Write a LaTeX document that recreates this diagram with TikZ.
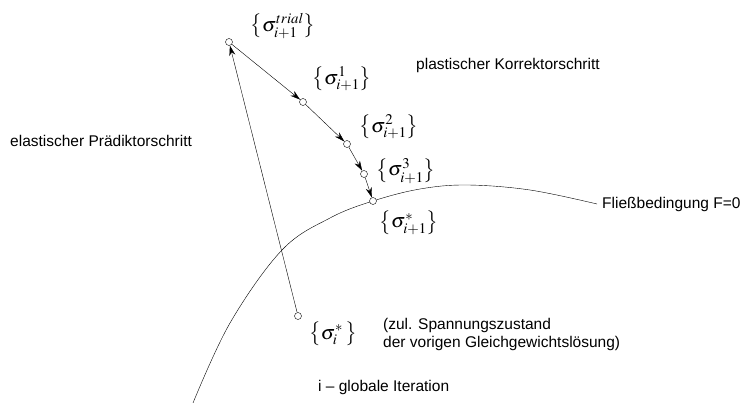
\documentclass[tikz,border=0pt]{standalone}
\usepackage{mathptmx}
\usepackage{fontspec}
\setmainfont{Liberation Sans}
\usetikzlibrary{arrows.meta}

\begin{document}
\begin{tikzpicture}[
  x=1pt, y=-1pt,
  pt/.style={circle, draw, fill=white, minimum size=7pt,
             inner sep=0pt},
  lbl/.style={inner sep=0pt, font=\fontsize{20}{22}\selectfont},
  txt/.style={inner sep=0pt, font=\fontsize{15.5}{18}\selectfont,
              align=left},
  lk/.style={draw, -{Stealth[length=10pt, width=6pt]}}
]
  \useasboundingbox (0,0) rectangle (751,403);
  % Fliessflaeche
  \draw plot[smooth, tension=0.6] coordinates {(193,403) (230,323)
    (282,250) (330,218) (373,201) (420,189) (467,185) (530,190) (597,204)};
  \node[pt] (T)  at (229, 42) {};
  \node[pt] (K1) at (303,102) {};
  \node[pt] (K2) at (347,144) {};
  \node[pt] (K3) at (364,174) {};
  \node[pt] (KS) at (373,201) {};
  \node[pt] (S0) at (298,316) {};
  \node[lbl] (LT)  at (283, 26) {$\bigl\{\sigma^{trial}_{i+1}\bigr\}$};
  \node[lbl] (L1)  at (342, 79) {$\bigl\{\sigma^{1}_{i+1}\bigr\}$};
  \node[lbl] (L2)  at (389,127) {$\bigl\{\sigma^{2}_{i+1}\bigr\}$};
  \node[lbl] (L3)  at (406,171) {$\bigl\{\sigma^{3}_{i+1}\bigr\}$};
  \node[lbl] (LS)  at (409,223) {$\bigl\{\sigma^{*}_{i+1}\bigr\}$};
  \node[lbl] (L0)  at (333,334) {$\bigl\{\sigma^{*}_{i}\,\bigr\}$};
  \node[txt, anchor=west] (FL) at (602,204) {Fließbedingung F=0};
  \node[txt, anchor=west] (PK) at (416, 65) {plastischer Korrektorschritt};
  \node[txt, anchor=west] (EP) at (10,141) {elastischer Prädiktorschritt};
  \node[txt, anchor=west] (ZU) at (383,334) {(zul. Spannungszustand\\der vorigen Gleichgewichtslösung)};
  \node[txt, anchor=west] (GI) at (318,387) {i -- globale Iteration};
  \draw[lk] (S0) -- (T);
  \draw[lk] (T) -- (K1);
  \draw[lk] (K1) -- (K2);
  \draw[lk] (K2) -- (K3);
  \draw[lk] (K3) -- (KS);
\end{tikzpicture}
\end{document}
